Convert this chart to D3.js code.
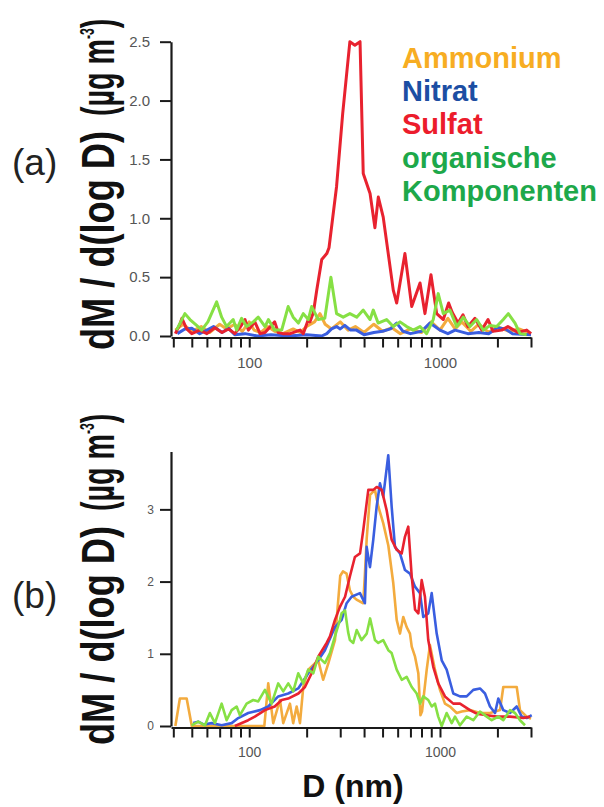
<!doctype html>
<html>
<head>
  <meta charset="utf-8">
  <script src="https://cdnjs.cloudflare.com/ajax/libs/d3/7.8.5/d3.min.js"></script>
  <style>
    body { margin: 0; background: #fff; }
    svg { display: block; font-family: "Liberation Sans", Arial, sans-serif; }
  </style>
</head>
<body>
  <svg id="chart" width="604" height="807"></svg>
  <script>
    // particle diameter D (nm) and dM/dlogD (µg m-3)
    var ammoniumA = [[41,0.05],[45,0.1],[50,0.04],[56,0.08],[62,0.03],[70,0.1],[76,0.06],[84,0.1],[92,0.04],[100,0.12],[106,0.05],[115,0.03],[125,0.08],[136,0.04],[150,0.02],[170,0.06],[185,0.03],[200,0.08],[220,0.12],[235,0.19],[250,0.1],[270,0.06],[300,0.12],[330,0.05],[360,0.08],[400,0.03],[450,0.1],[500,0.04],[560,0.07],[620,0.02],[700,0.06],[800,0.03],[900,0.12],[1000,0.05],[1100,0.15],[1200,0.06],[1300,0.12],[1450,0.04],[1600,0.1],[1800,0.03],[2000,0.08],[2300,0.04],[2600,0.06],[3000,0.02]];
    var nitratA = [[42,0.02],[46,0.06],[50,0.065],[55,0.02],[60,0.05],[65,0.08],[72,0.03],[78,0.065],[84,0.01],[95,0.02],[110,0],[130,0.01],[160,0],[200,0.01],[240,0],[255,0.02],[270,0.06],[287,0.08],[300,0.06],[317,0.09],[340,0.05],[365,0.05],[400,0.01],[450,0.03],[500,0.04],[550,0.06],[593,0.11],[640,0.04],[700,0.02],[800,0.04],[886,0.11],[1000,0.05],[1100,0.02],[1200,0.05],[1400,0.02],[1600,0.03],[1800,0.02],[2000,0.07],[2200,0.06],[2400,0.02],[3000,0.01]];
    var sulfatA = [[41,0.02],[43.3,0.1],[44.4,0.15],[47,0.06],[50,0.02],[55,0.05],[60,0.02],[66,0.07],[72,0.03],[78,0.06],[84,0.02],[90,0.08],[95,0.14],[99,0.05],[107,0.12],[114,0.02],[121,0.03],[136,0.12],[142,0.03],[150,0.02],[164,0.02],[177,0.04],[185,0.05],[192,0.02],[204,0.14],[208,0.12],[217,0.2],[226,0.39],[240,0.65],[255,0.7],[262,0.75],[287,1.27],[309,1.89],[337,2.5],[358,2.47],[381,2.5],[396,1.38],[430,1.21],[456,0.92],[475,1.18],[504,1.01],[569,0.39],[593,0.28],[655,0.7],[711,0.25],[786,0.45],[834,0.19],[897,0.52],[961,0.19],[1041,0.14],[1110,0.28],[1160,0.2],[1243,0.11],[1320,0.18],[1402,0.08],[1526,0.15],[1655,0.05],[1786,0.14],[1896,0.04],[2107,0.05],[2270,0.08],[2564,0.03],[2848,0.05],[3000,0.02]];
    var organikA = [[41.6,0.05],[46,0.19],[48.9,0.14],[53,0.09],[56.3,0.05],[60.7,0.12],[67.5,0.29],[71.7,0.16],[76.1,0.08],[82.4,0.14],[85.9,0.05],[91.2,0.15],[96.9,0.08],[105,0.12],[111.5,0.16],[121,0.08],[126,0.14],[136,0.05],[148,0.05],[160,0.25],[170,0.16],[181,0.11],[192,0.19],[204,0.14],[212.5,0.25],[230,0.14],[249,0.15],[268,0.5],[287,0.19],[311,0.16],[337,0.19],[366,0.16],[396,0.22],[430,0.14],[447,0.22],[474,0.11],[525,0.14],[569,0.08],[617,0.12],[669,0.08],[724,0.05],[786,0.08],[851,0.02],[922,0.14],[979,0.36],[1041,0.19],[1128,0.22],[1224,0.08],[1325,0.16],[1436,0.08],[1557,0.14],[1687,0.05],[1829,0.09],[1983,0.08],[2147,0.14],[2281,0.19],[2474,0.11],[2627,0.02],[2848,0.01]];

    var ammoniumB = [[41,0],[43.3,0.38],[47,0.38],[50,0],[120,0],[125.8,0.59],[133.6,0.04],[144.9,0.36],[150.8,0.04],[163.5,0.31],[170,0.04],[177.3,0.27],[184.5,0.04],[192,0.54],[204,0.78],[230,0.91],[244,0.64],[260,0.87],[281.5,1.19],[300,2.08],[310,2.14],[324,2.11],[337,1.88],[351,1.79],[365,1.75],[396,1.7],[404,2.1],[413,2.6],[430,3.2],[456,3.27],[475,3.04],[504,2.81],[536,2.5],[569,1.98],[593,1.47],[617,1.28],[642,1.51],[669,1.37],[696,1.28],[711,1.1],[740,0.96],[770,0.73],[790,0.15],[805,0.2],[852,0.78],[886,1.12],[941,0.78],[1000,0.5],[1062,0.31],[1128,0.27],[1224,0.18],[1300,0.2],[1436,0.22],[1621,0.18],[1829,0.18],[2064,0.22],[2147,0.54],[2525,0.54],[2627,0.22],[2848,0.13],[3000,0.1]];
    var nitratB = [[50.9,0.04],[54,0.06],[58,0.02],[63.5,0.04],[71.7,0.01],[80.9,0.04],[87.6,0.11],[98.8,0.18],[113.8,0.22],[125.8,0.27],[141.9,0.41],[160.2,0.45],[180.7,0.52],[204,0.73],[230,0.91],[249.4,1.05],[281.5,1.37],[305,1.47],[324,1.7],[344,1.79],[380.6,1.84],[404,1.7],[412.7,2.48],[429.5,2.2],[447,2.58],[465.6,3.04],[484.5,3.36],[504.3,3.18],[535.7,3.75],[558,3.04],[580.8,2.48],[617,2.39],[655.5,2.16],[696.3,2.11],[739.5,1.93],[785.5,1.84],[817.4,1.51],[868,1.56],[904.8,1.84],[961,1.28],[1021,0.91],[1084,0.78],[1174,0.45],[1273,0.41],[1380,0.41],[1495,0.5],[1621,0.52],[1722,0.45],[1829,0.27],[1943,0.18],[2022,0.38],[2147,0.22],[2328,0.18],[2525,0.27],[2681,0.13],[2848,0.11],[3026,0.15]];
    var sulfatB = [[84.1,0],[98.8,0.08],[107,0.13],[121,0.22],[136,0.27],[148,0.36],[160,0.38],[181,0.45],[196,0.54],[212.5,0.73],[230,0.96],[254.6,1.15],[265,1.24],[281.5,1.47],[299,1.65],[318,1.79],[337,2.07],[358,2.34],[381,2.39],[396,2.71],[421,3.27],[447,3.27],[466,3.31],[495,3.27],[525,2.99],[558,2.58],[593,2.44],[630,2.39],[655,2.62],[682,2.76],[711,2.07],[740,1.61],[770,1.56],[802,2.02],[834,1.79],[868,1.19],[922,0.82],[979,0.59],[1062,0.41],[1174,0.31],[1273,0.31],[1436,0.22],[1557,0.17],[1758,0.15],[1983,0.13],[2328,0.13],[2734,0.11],[2965,0.13]];
    var organikB = [[49.9,0.01],[54,0.06],[58.6,0.01],[62.2,0.18],[66.1,0.04],[71.7,0.31],[76.1,0.08],[80.9,0.22],[85.9,0.27],[89.4,0.15],[96.9,0.31],[105,0.36],[111.5,0.34],[120.9,0.5],[131,0.31],[141.9,0.59],[150.8,0.48],[160.2,0.59],[170.1,0.48],[180.7,0.73],[192,0.59],[204,0.78],[216.6,0.73],[230,0.96],[249.4,0.87],[265,1.01],[281.5,1.24],[299,1.47],[305,1.56],[318,1.6],[330,1.3],[337,1.19],[351,1.15],[366,1.33],[388,1.19],[413,1.28],[430,1.49],[456,1.19],[475,1.15],[504,1.19],[536,1.05],[558,1.01],[593,0.78],[630,0.64],[669,0.68],[711,0.54],[755,0.45],[786,0.31],[817,0.41],[868,0.36],[905,0.27],[941,0.31],[979,0.13],[1021,0],[1084,0.18],[1152,0.04],[1199,0.13],[1273,0.01],[1380,0.13],[1495,0.08],[1621,0.2],[1758,0.13],[1867,0.08],[2022,0.13],[2147,0.08],[2328,0.22],[2474,0.18],[2627,0.08],[2791,0.01]];

    var xTicks = [40,50,60,70,80,90,100,200,300,400,500,600,700,800,900,1000,2000,3000];
    var xLabels = [100, 1000];
    var yTicksA = [0, 0.5, 1.0, 1.5, 2.0, 2.5];
    var yTicksB = [0, 1, 2, 3];
    var legendNames = ["Ammonium", "Nitrat", "Sulfat", "organische", "Komponenten"];
    var legendColors = ["#f7ad22", "#1c4ea3", "#ec1c2c", "#1da84a", "#1da84a"];
    var lineColors = { ammonium: "#f3ab3e", nitrat: "#3a5ee0", sulfat: "#e8222f", organik: "#86e044" };

    var svg = d3.select("#chart");
    var x = d3.scaleLog().domain([38.9, 3000]).range([171, 531]);

    function panel(cfg) {
      var y = d3.scaleLinear().domain(cfg.yDomain).range(cfg.yRange);
      var g = svg.append("g");
      var line = d3.line().x(d => x(d[0])).y(d => y(d[1]));

      cfg.series.forEach(s => {
        g.append("path")
          .datum(s.data)
          .attr("fill", "none")
          .attr("stroke", s.color)
          .attr("stroke-width", cfg.lw)
          .attr("stroke-linejoin", "round")
          .attr("d", line);
      });

      // x axis
      var xa = g.append("g")
        .attr("transform", "translate(0," + (y(0) + 1.5) + ")")
        .call(d3.axisBottom(x).tickValues(xTicks)
          .tickFormat(d => xLabels.includes(d) ? d : "")
          .tickSize(10).tickSizeOuter(0).tickPadding(cfg.xPad));
      xa.selectAll("text").style("font-size", cfg.xFont + "px").attr("fill", "#555");

      // y axis
      var ya = g.append("g")
        .attr("transform", "translate(171,0)")
        .call(d3.axisLeft(y).tickValues(cfg.yTicks).tickFormat(cfg.yFmt)
          .tickSize(11).tickSizeOuter(0).tickPadding(cfg.yPad));
      ya.selectAll("text").style("font-size", cfg.yFont + "px").attr("fill", "#555");

      [xa, ya].forEach(a => {
        a.select(".domain").attr("stroke", "#1a1a1a").attr("stroke-width", 2.2);
        a.selectAll(".tick line").attr("stroke", "#1a1a1a").attr("stroke-width", 2);
      });

      // rotated axis title, squeezed along the text direction
      svg.append("text")
        .attr("transform", "translate(114," + cfg.labBottom + ") rotate(-90) scale(0.77,1)")
        .attr("font-size", 47).attr("font-weight", "bold").attr("fill", "#111")
        .text("dM / d(log D)");
      var t2 = svg.append("text")
        .attr("transform", "translate(114," + (cfg.labBottom - 234) + ") rotate(-90) scale(0.61,1)")
        .attr("font-size", 47).attr("font-weight", "bold").attr("fill", "#111");
      t2.append("tspan").text("(µg m");
      t2.append("tspan").attr("font-size", 20).attr("dy", -20).text("-3");
      t2.append("tspan").attr("dy", 20).text(")");

      svg.append("text")
        .attr("x", 12).attr("y", cfg.tagY)
        .attr("font-size", 37).attr("fill", "#222")
        .text(cfg.tag);
    }

    panel({
      yDomain: [0, 2.5], yRange: [336, 41.7], yTicks: yTicksA, yFmt: d3.format(".1f"),
      xFont: 15, yFont: 15, xPad: 10, yPad: 10, lw: 3,
      labBottom: 350, tag: "(a)", tagY: 175,
      series: [
        { data: ammoniumA, color: lineColors.ammonium },
        { data: nitratA, color: lineColors.nitrat },
        { data: sulfatA, color: lineColors.sulfat },
        { data: organikA, color: lineColors.organik }
      ]
    });

    panel({
      yDomain: [0, 3.8], yRange: [726, 451.6], yTicks: yTicksB, yFmt: d3.format("d"),
      xFont: 14, yFont: 12, xPad: 10, yPad: 6, lw: 2.6,
      labBottom: 745, tag: "(b)", tagY: 608,
      series: [
        { data: ammoniumB, color: lineColors.ammonium },
        { data: nitratB, color: lineColors.nitrat },
        { data: sulfatB, color: lineColors.sulfat },
        { data: organikB, color: lineColors.organik }
      ]
    });

    // legend of panel (a)
    svg.append("g").selectAll("text")
      .data(legendNames)
      .enter()
      .append("text")
      .attr("x", 402)
      .attr("y", (d, i) => 67.5 + i * 33.4)
      .attr("font-size", 29).attr("font-weight", "bold")
      .attr("fill", (d, i) => legendColors[i])
      .text(d => d);

    svg.append("text")
      .attr("x", 353).attr("y", 797)
      .attr("text-anchor", "middle")
      .attr("font-size", 32).attr("font-weight", "bold").attr("fill", "#111")
      .text("D (nm)");
  </script>
</body>
</html>
